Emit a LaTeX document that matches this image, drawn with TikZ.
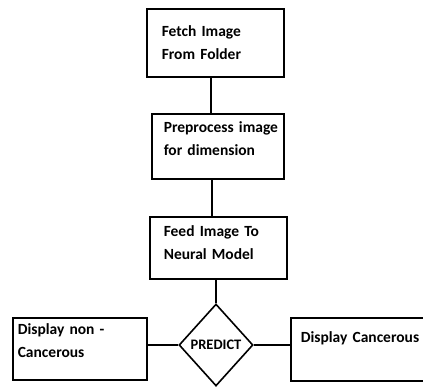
\documentclass[tikz,border=0pt]{standalone}
\usepackage{fontspec}
\setmainfont{Carlito}
\usetikzlibrary{shapes.geometric}

\begin{document}
\begin{tikzpicture}[x=1pt,y=-1pt,
   flowbox/.style={draw,line width=1.6pt,rectangle,anchor=north west,
      align=left,font=\bfseries\fontsize{15.5}{23}\selectfont,inner ysep=2pt},
   predict/.style={draw,line width=1.6pt,diamond,inner sep=0pt,
      minimum width=74pt,minimum height=82pt,
      font=\bfseries\fontsize{14.5}{17}\selectfont},
   link/.style={line width=1.6pt}]
   \useasboundingbox (0,0) rectangle (423,388);

   \node[flowbox,minimum width=137pt,minimum height=68pt,
      inner xsep=15pt,text width=107pt] (fetch) at (146,8)
      {Fetch Image\\From Folder};
   \node[flowbox,minimum width=132pt,minimum height=65pt,
      inner xsep=12pt,text width=108pt,text depth=39pt] (prep) at (151,113)
      {\mbox{Preprocess image}\\for dimension};
   \node[flowbox,minimum width=137pt,minimum height=62pt,
      inner xsep=14pt,text width=109pt,text depth=34pt] (feed) at (149,216)
      {Feed Image To\\Neural Model};

   \node[predict] (pred) at (216,345) {PREDICT};

   \node[flowbox,minimum width=134pt,minimum height=62pt,
      inner xsep=5pt,text width=124pt,text depth=39pt] (noncan) at (12,317)
      {Display non -\\Cancerous};
   \node[flowbox,minimum width=140pt,minimum height=63pt,
      inner xsep=10pt,text width=120pt,text depth=24pt] (can) at (290,317)
      {Display Cancerous};

   \draw[link] ([xshift=-4.5pt]fetch.south) -- ([xshift=-4.5pt]fetch.south |- prep.north);
   \draw[link] ([xshift=-6pt]prep.south) -- ([xshift=-6pt]prep.south |- feed.north);
   \draw[link] (feed.south -| pred.north) -- (pred.north);
   \draw[link] (pred.west) -- (pred.west -| noncan.east);
   \draw[link] (pred.east) -- (pred.east -| can.west);

\end{tikzpicture}
\end{document}
